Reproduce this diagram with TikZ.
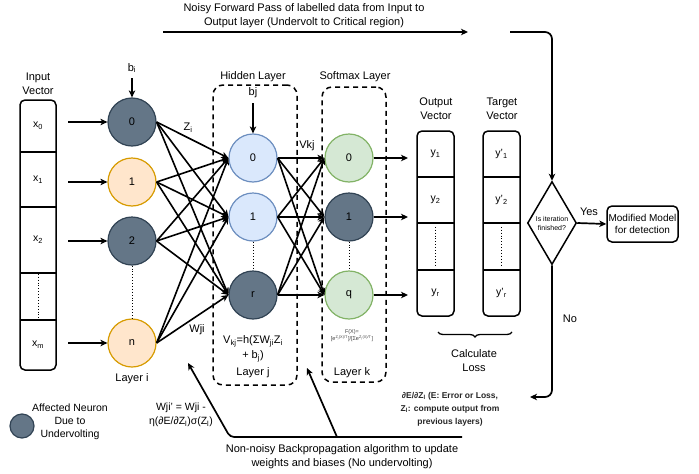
\documentclass[tikz,border=0pt]{standalone}
\usepackage{fontspec}
\setmainfont{Liberation Sans}
\usetikzlibrary{arrows.meta,shapes.geometric,decorations.pathreplacing}
\definecolor{dkfill}{HTML}{647687}
\definecolor{dkdraw}{HTML}{314354}
\definecolor{orfill}{HTML}{FFE6CC}
\definecolor{ordraw}{HTML}{D79B00}
\definecolor{blfill}{HTML}{DAE8FC}
\definecolor{bldraw}{HTML}{6C8EBF}
\definecolor{grfill}{HTML}{D5E8D4}
\definecolor{grdraw}{HTML}{82B366}
\begin{document}
\begin{tikzpicture}[x=1pt,y=-1pt,
  txt/.style={inner sep=1pt, align=center, font=\fontsize{11}{14}\selectfont},
  neuron/.style={circle, minimum size=48pt, inner sep=0pt, line width=1.2pt, font=\fontsize{11}{13}\selectfont},
  dkn/.style={neuron, fill=dkfill, draw=dkdraw},
  orn/.style={neuron, fill=orfill, draw=ordraw},
  bln/.style={neuron, fill=blfill, draw=bldraw},
  grn/.style={neuron, fill=grfill, draw=grdraw},
  arr/.style={-{Stealth[length=7pt,width=6.5pt,inset=2pt]}, line width=1.7pt},
  conn/.style={-{Stealth[length=7pt,width=6.5pt,inset=2pt]}, line width=1.6pt},
  vbox/.style={draw, rounded corners=5pt, line width=1.5pt, inner sep=0pt},
  cell/.style={inner sep=0pt, minimum width=36pt, font=\fontsize{10.5}{12}\selectfont},
  sep/.style={line width=1.5pt},
  dotl/.style={dotted, line width=0.9pt},
  layerbox/.style={draw, dashed, dash pattern=on 5pt off 4pt, rounded corners=10pt, line width=1.5pt, inner sep=0pt}
]
\useasboundingbox (0,0) rectangle (699,474);

% title
\node[txt] (title) at (304,16) {Noisy Forward Pass of labelled data from Input to\\Output layer (Undervolt to Critical region)};
\coordinate (fwA) at (163,32);
\coordinate (fwB) at (468,32);
\draw[arr] (fwA) -- (fwB);
\coordinate (fwC) at (510,32);

% input vector
\node[txt] (inlab) at (38,84) {Input\\Vector};
\node[vbox, minimum width=36pt, minimum height=270pt] (inbox) at (38,235) {};
\node[cell, minimum height=52pt] (x0) at (38,126) {x\textsubscript{0}};
\node[cell, minimum height=55pt] (x1) at (38,179.5) {x\textsubscript{1}};
\node[cell, minimum height=66pt] (x2) at (38,240) {x\textsubscript{2}};
\node[cell, minimum height=47pt] (x3) at (38,296.5) {};
\node[cell, minimum height=50pt] (xm) at (38,345) {x\textsubscript{m}};
\draw[sep] (x0.south west) -- (x0.south east);
\draw[sep] (x1.south west) -- (x1.south east);
\draw[sep] (x2.south west) -- (x2.south east);
\draw[sep] (x3.south west) -- (x3.south east);
\draw[dotl] ([yshift=-1pt]x3.north) -- ([yshift=1pt]x3.south);

% layer i
\node[dkn] (i0) at (132,122) {0};
\node[orn] (i1) at (132,182) {1};
\node[dkn] (i2) at (132,241) {2};
\node[orn] (in) at (132,343) {n};
\draw[dotl] (i2.south) -- (in.north);
\node[txt] (bi) at (132,68) {b\textsubscript{i}};
\draw[arr, shorten <=4pt] (bi.south) -- (i0.north);
\draw[arr] ([xshift=12pt]x0.east |- i0.west) -- (i0.west);
\draw[arr] ([xshift=12pt]x1.east |- i1.west) -- (i1.west);
\draw[arr] ([xshift=12pt]x2.east |- i2.west) -- (i2.west);
\draw[arr] ([xshift=12pt]xm.east |- in.west) -- (in.west);
\node[txt] (layi) at (132,379) {Layer i};

% hidden layer
\node[layerbox, minimum width=84pt, minimum height=300pt] (hbox) at (255,235) {};
\node[txt] (hlab) at (253,77) {Hidden Layer};
\node[bln] (h0) at (253,158) {0};
\node[bln] (h1) at (253,217) {1};
\node[dkn] (hr) at (253,295) {r};
\draw[dotl] (h1.south) -- (hr.north);
\node[txt] (bj) at (253,93) {bj};
\draw[arr, shorten <=4pt] (bj.south) -- (h0.north);
\node[txt, font=\fontsize{11}{15}\selectfont] (vform) at (253,349) {V\textsubscript{kj}=h(ΣW\textsubscript{ji}Z\textsubscript{i}\\+ b\textsubscript{j})};
\node[txt] (layj) at (253,373) {Layer j};

% softmax layer
\node[layerbox, minimum width=64pt, minimum height=295pt] (sbox) at (354,234.5) {};
\node[txt] (slab) at (355,77) {Softmax Layer};
\node[grn] (s0) at (349,158) {0};
\node[dkn] (s1) at (349,217) {1};
\node[grn] (sq) at (349,295) {q};
\draw[dotl] (s1.south) -- (sq.north);
\node[txt, font=\fontsize{5.5}{7}\selectfont, text=black!75] (fx) at (352,336) {F(X)=\\{[}e\textsuperscript{Z\textsubscript{j}(X)/T}]/[Σe\textsuperscript{Z\textsubscript{j}(X)/T}]};
\node[txt] (layk) at (352,373) {Layer k};

% connections i -> j
\foreach \a in {i0,i1,i2,in}
  \foreach \b in {h0,h1,hr}
    \draw[conn] (\a.east) -- (\b.west);
% connections j -> k
\foreach \a in {h0,h1,hr}
  \foreach \b in {s0,s1,sq}
    \draw[conn] (\a.east) -- (\b.west);
\node[txt] (zi) at (188,128) {Z\textsubscript{i}};
\node[txt] (wji) at (197,330) {Wji};
\node[txt] (vkj) at (307,146) {Vkj};

% output vector
\node[txt] (olab) at (436,109) {Output\\Vector};
\node[vbox, minimum width=37pt, minimum height=185pt] (obox) at (435.5,223.5) {};
\node[cell, minimum height=46pt] (o1) at (435.5,154) {y\textsubscript{1}};
\node[cell, minimum height=46pt] (o2) at (435.5,200) {y\textsubscript{2}};
\node[cell, minimum height=47pt] (o3) at (435.5,246.5) {};
\node[cell, minimum height=46pt] (o4) at (435.5,293) {y\textsubscript{r}};
\draw[sep] (o1.south west) -- (o1.south east);
\draw[sep] (o2.south west) -- (o2.south east);
\draw[sep] (o3.south west) -- (o3.south east);
\draw[dotl] ([yshift=-4pt]o3.north) -- ([yshift=4pt]o3.south);

% target vector
\node[txt] (tlab) at (502,109) {Target\\Vector};
\node[vbox, minimum width=37pt, minimum height=185pt] (tbox) at (501.5,223.5) {};
\node[cell, minimum height=46pt] (t1) at (501.5,154) {y'\textsubscript{1}};
\node[cell, minimum height=46pt] (t2) at (501.5,200) {y'\textsubscript{2}};
\node[cell, minimum height=47pt] (t3) at (501.5,246.5) {};
\node[cell, minimum height=46pt] (t4) at (501.5,293) {y'\textsubscript{r}};
\draw[sep] (t1.south west) -- (t1.south east);
\draw[sep] (t2.south west) -- (t2.south east);
\draw[sep] (t3.south west) -- (t3.south east);
\draw[dotl] ([yshift=-4pt]t3.north) -- ([yshift=4pt]t3.south);

% softmax -> output
\coordinate (otip) at (408,0);
\draw[arr] (s0.east) -- (s0.east -| otip);
\draw[arr] (s1.east) -- (s1.east -| otip);
\draw[arr] (sq.east) -- (sq.east -| otip);

% loss brace
\coordinate (brL) at (438,332);
\coordinate (brR) at (512,332);
\draw[line width=1.3pt, decorate, decoration={brace, mirror, amplitude=5pt}] (brL) -- (brR);
\node[txt] (loss) at (474,361) {Calculate\\Loss};

% decision
\node[diamond, draw, line width=1.5pt, minimum width=49pt, minimum height=83pt, inner sep=0pt] (dia) at (552,223) {};
\node[txt, font=\fontsize{7}{9}\selectfont] (diat) at (552,223) {Is iteration\\finished?};
\draw[arr, rounded corners=7pt] (fwC) -| (dia.north);
\node[draw, rounded corners=5pt, line width=1.5pt, minimum width=71pt, minimum height=36pt, inner sep=1pt, align=center, font=\fontsize{10}{12}\selectfont] (mm) at (642.5,224) {Modified Model\\for detection};
\draw[arr] (dia.east) -- (mm.west);
\node[txt] (yes) at (589,212) {Yes};
\coordinate (noTip) at (530,397);
\draw[arr, rounded corners=7pt] (dia.south) |- (noTip);
\node[txt] (no) at (570,319) {No};
\node[txt, font=\bfseries\fontsize{8.5}{13}\selectfont, text=black!85] (grad) at (450,409) {∂E/∂Z\textsubscript{l} (E: Error or Loss,\\Z\textsubscript{l}: compute output from\\previous layers)};

% backprop
\coordinate (bpR) at (462,437);
\coordinate (bpC) at (230,437);
\coordinate (bpT) at (188,363);
\coordinate (bp2) at (337,437);
\coordinate (bp2T) at (307,368);
\draw[arr, rounded corners=4pt] (bpR) -- (bpC) -- (bpT);
\draw[arr] (bp2) -- (bp2T);
\node[txt] (bptext) at (342,457) {Non-noisy Backpropagation algorithm to update\\weights and biases (No undervolting)};
\node[txt, font=\fontsize{10.5}{14}\selectfont] (wupd) at (181,415) {Wji' = Wji -\\η(∂E/∂Z\textsubscript{l})σ(Z\textsubscript{l})};

% legend
\node[dkn, minimum size=24pt] (leg) at (22,426) {};
\node[txt, font=\fontsize{10.5}{13}\selectfont] (legt) at (70,422) {Affected Neuron\\Due to\\Undervolting};
\end{tikzpicture}
\end{document}
